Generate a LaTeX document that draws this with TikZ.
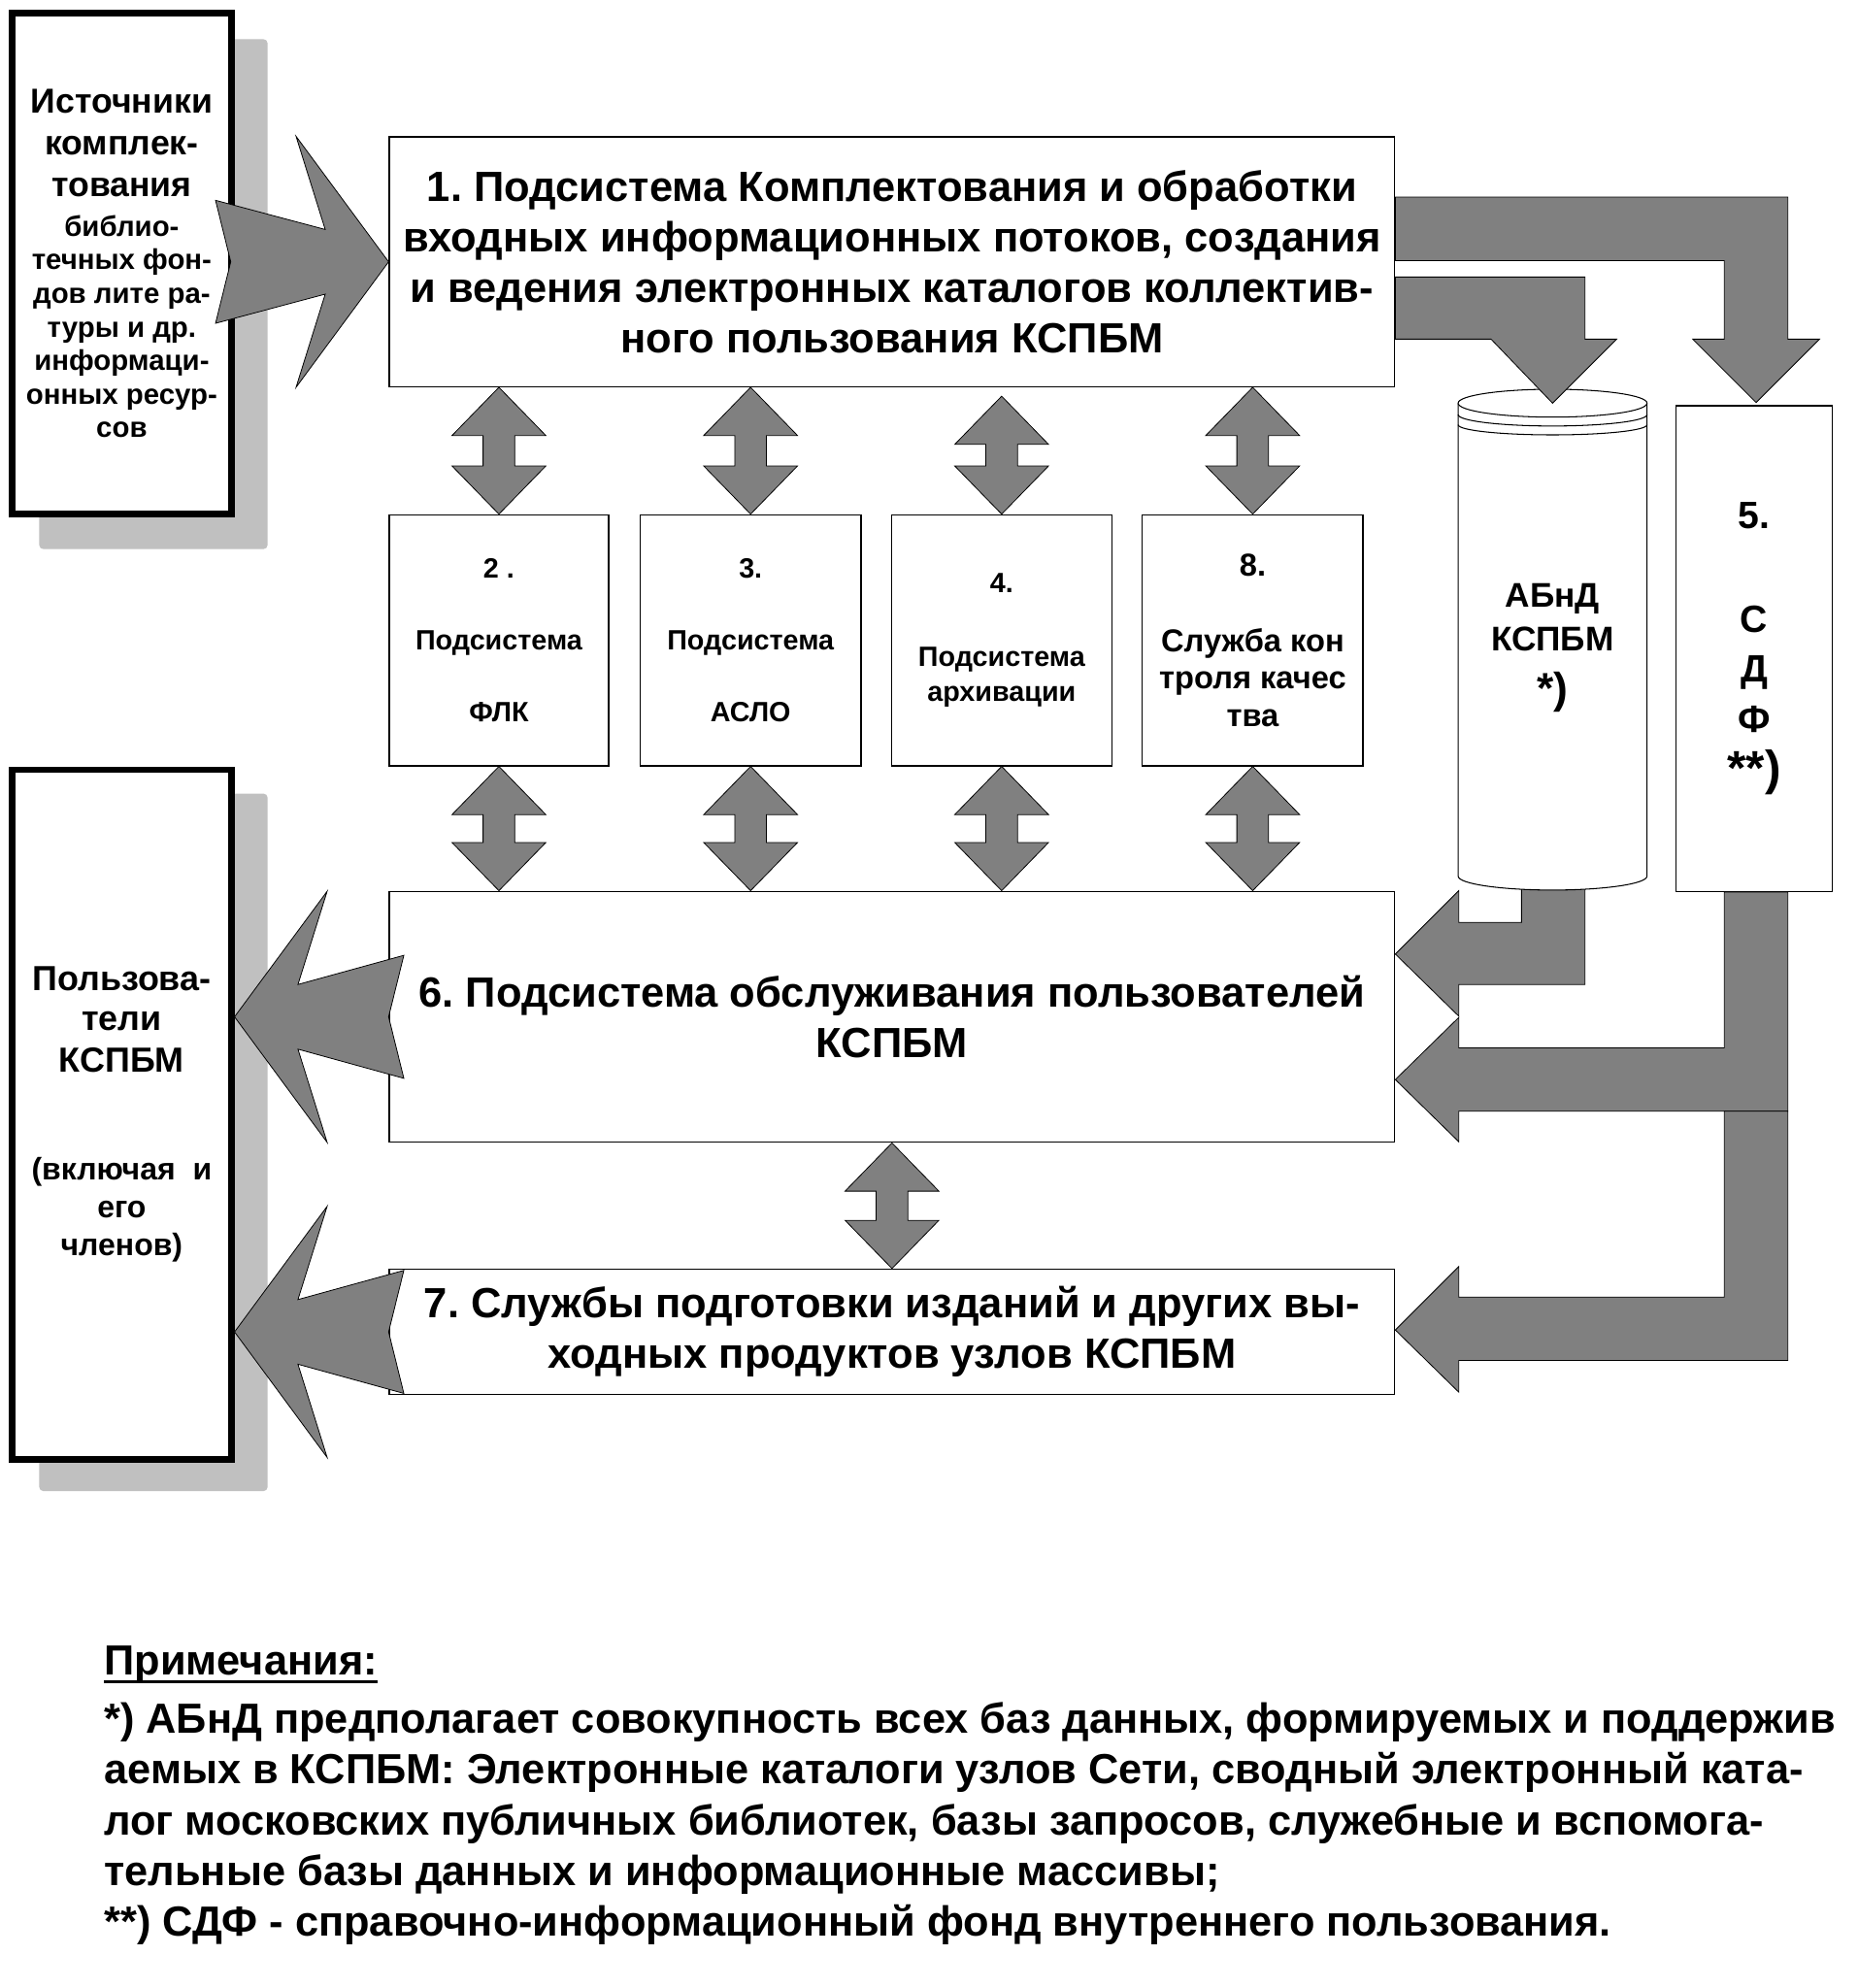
\documentclass[tikz,border=0pt]{standalone}
\usepackage{fontspec}
\setmainfont{Liberation Sans}
\usetikzlibrary{calc}
\frenchspacing
\definecolor{arrgray}{RGB}{128,128,128}
\definecolor{shadowgray}{RGB}{192,192,192}
\newcommand\thickul[1]{\setbox0=\hbox{#1}\rlap{\rule[-6.5pt]{\wd0}{2.6pt}}\box0}
\tikzset{
  box/.style={draw=black,line width=1pt,fill=white,inner sep=0pt,align=center},
  heavybox/.style={draw=black,line width=5pt,fill=white,inner sep=0pt,align=center},
  shadowbox/.style={fill=shadowgray,rounded corners=3pt},
  blockarrow/.style={fill=arrgray,draw=black,line width=0.6pt,line join=miter},
  cylline/.style={draw=black,line width=0.8pt},
  bigtext/.style={font=\bfseries\fontsize{33.3}{40}\selectfont},
  notetext/.style={font=\bfseries\fontsize{33.2}{40}\selectfont},
  smalltext/.style={font=\bfseries\fontsize{22}{57}\selectfont},
}
\newcommand\vdbl[2]{%
  \path[blockarrow] let \p1=#1, \p2=#2 in
   (\x1,\y1) -- (\x1+37pt,\y1-38pt) -- (\x1+12.5pt,\y1-38pt) -- (\x2+12.5pt,\y2+38pt)
   -- (\x2+37pt,\y2+38pt) -- (\x2,\y2) -- (\x2-37pt,\y2+38pt) -- (\x2-12.5pt,\y2+38pt)
   -- (\x1-12.5pt,\y1-38pt) -- (\x1-37pt,\y1-38pt) -- cycle;}
\newcommand\barbarrow[2]{%
  \path[blockarrow] let \p1=#1, \p2=#2, \n1={(\x2-\x1)/abs(\x2-\x1)} in
   (\x1,\y2+48.5pt) -- (\x2-\n1*50pt,\y2+25.5pt) -- (\x2-\n1*73pt,\y2+99pt) -- (\x2,\y2)
   -- (\x2-\n1*73pt,\y2-99pt) -- (\x2-\n1*50pt,\y2-25.5pt) -- (\x1,\y2-48.5pt)
   -- (\x1+\n1*12pt,\y2) -- cycle;}
\begin{document}
\begin{tikzpicture}[x=1pt,y=-1pt]
\useasboundingbox (0,0) rectangle (1465,1568);
\fill[white] (0,0) rectangle (1465,1568);

% shadows
\fill[shadowbox] (31,31) rectangle (211,433);
\fill[shadowbox] (31,626) rectangle (211,1176);

% left boxes
\node[heavybox,minimum width=173,minimum height=395,font=\bfseries\fontsize{22.5}{26.5}\selectfont] (src) at (96,208)
 {{\fontsize{27.3}{26.5}\selectfont Источники}\\[6.5pt]{\fontsize{27.3}{26.5}\selectfont комплек-}\\[6.5pt]{\fontsize{27.3}{26.5}\selectfont тования}\\[4.5pt]библио-\\течных фон-\\дов лите ра-\\туры и др.\\информаци-\\онных ресур-\\сов};
\node[heavybox,minimum width=173,minimum height=544,font=\bfseries\fontsize{24.5}{30}\selectfont] (usr) at (96,879)
 {{\fontsize{27.5}{30}\selectfont Пользова-}\\[1pt]{\fontsize{27.5}{30}\selectfont тели}\\[3pt]{\fontsize{27.5}{30}\selectfont КСПБМ}\\[55pt](включая~~и\\его\\членов)};

% main boxes
\node[box,minimum width=793,minimum height=197,bigtext] (b1) at (703.5,206.5)
 {1. Подсистема Комплектования и обработки\\входных информационных потоков, создания\\и ведения электронных каталогов коллектив-\\ного пользования КСПБМ};
\node[box,minimum width=173,minimum height=198,smalltext] (b2) at (393.5,505) {2 .\\Подсистема\\ФЛК};
\node[box,minimum width=174,minimum height=198,smalltext] (b3) at (592,505) {3.\\Подсистема\\АСЛО};
\node[box,minimum width=174,minimum height=198,font=\bfseries\fontsize{22}{28}\selectfont] (b4) at (790,505) {4.\\[30pt]Подсистема\\архивации};
\node[box,minimum width=174,minimum height=198,font=\bfseries\fontsize{25}{29.5}\selectfont] (b8) at (988,505) {8.\\[30pt]Служба кон\\троля качес\\тва};
\node[box,minimum width=793,minimum height=198,bigtext] (b6) at (703.5,802)
 {6. Подсистема обслуживания пользователей\\КСПБМ};
\node[box,minimum width=793,minimum height=99,bigtext] (b7) at (703.5,1050.5)
 {7. Службы подготовки изданий и других вы-\\ходных продуктов узлов КСПБМ};
\node[box,minimum width=123,minimum height=383,font=\bfseries\fontsize{30}{39.5}\selectfont] (s5) at (1383.5,511.5)
 {5.\\[42.5pt]С\\Д\\Ф\\[2pt]{\fontsize{38}{38}\selectfont **)}};

% database cylinder
\coordinate (dbtop) at (1224.5,307);
\coordinate (dbbot) at (1224.5,702);
\path[blockarrow] let \p1=(dbbot), \p2=(b6.north east) in
 (\x1-24.5pt,\y1+8pt) -- (\x1+25.5pt,\y1+8pt) -- (\x1+25.5pt,\y2-74pt) -- (\x2+50pt,\y2-74pt)
 -- (\x2+50pt,\y2-99pt) -- (\x2,\y2-50pt) -- (\x2+50pt,\y2) -- (\x2+50pt,\y2-25pt)
 -- (\x1-24.5pt,\y2-25pt) -- cycle;
\fill[white] (1150,318) -- (1150,691) arc[start angle=180,end angle=360,x radius=74.5pt,y radius=11pt] -- (1299,318) -- cycle;
\draw[cylline] (1150,318) -- (1150,691) arc[start angle=180,end angle=360,x radius=74.5pt,y radius=11pt] -- (1299,318);
\draw[cylline,fill=white] (1224.5,318) ellipse[x radius=74.5pt,y radius=11pt];
\draw[cylline] (1150,327) arc[start angle=180,end angle=360,x radius=74.5pt,y radius=9pt];
\draw[cylline] (1150,335) arc[start angle=180,end angle=360,x radius=74.5pt,y radius=8pt];
\node[inner sep=0pt,align=center,font=\bfseries\fontsize{27}{34.3}\selectfont] (db) at (1224.5,511)
 {АБнД\\КСПБМ\\[6.5pt]{\fontsize{34}{34}\selectfont *)}};

% arrows from box 1 to database and to СДФ
\path[blockarrow] let \p1=(b1.north east), \p2=(s5.north) in
 (\x1,\y1-48pt) -- (\x2+26.5pt,\y1-48pt) -- (\x2+26.5pt,\y2+52pt) -- (\x2+51.5pt,\y2+52pt)
 -- (\x2+1.5pt,\y2+2pt) -- (\x2-48.5pt,\y2+52pt) -- (\x2-23.5pt,\y2+52pt) -- (\x2-23.5pt,\y1-98pt)
 -- (\x1,\y1-98pt) -- cycle;
\path[blockarrow] let \p1=(b1.north east), \p2=(dbtop) in
 (\x1,\y1-111pt) -- (\x2+25.5pt,\y1-111pt) -- (\x2+25.5pt,\y1-160pt) -- (\x2+50.5pt,\y1-160pt)
 -- (\x2,\y2-11pt) -- (\x2-48.5pt,\y1-160pt) -- (\x1,\y1-160pt) -- cycle;

% arrows from СДФ to boxes 6 and 7
\path[blockarrow] let \p1=(s5.south), \p2=(b6.south east) in
 (\x1-23.5pt,\y1) -- (\x1+26.5pt,\y1) -- (\x1+26.5pt,\y2+25pt) -- (\x2+50pt,\y2+25pt)
 -- (\x2+50pt,\y2+1pt) -- (\x2,\y2+50pt) -- (\x2+50pt,\y2+99pt) -- (\x2+50pt,\y2+75pt)
 -- (\x1-23.5pt,\y2+75pt) -- cycle;
\path[blockarrow] let \p1=(s5.south), \p2=(b7.east), \p3=(b6.south) in
 (\x1-23.5pt,\y3+25pt) -- (\x1+26.5pt,\y3+25pt) -- (\x1+26.5pt,\y2-22.5pt) -- (\x2+50pt,\y2-22.5pt)
 -- (\x2+50pt,\y2-47.5pt) -- (\x2,\y2+1.5pt) -- (\x2+50pt,\y2+51.5pt) -- (\x2+50pt,\y2+27.5pt)
 -- (\x1-23.5pt,\y2+27.5pt) -- cycle;

% big barbed arrows
\barbarrow{($(b1.west -| src.east)+(-15,0)$)}{(b1.west)}
\barbarrow{($(b6.west)+(12,0)$)}{(b6.west -| usr.east)}
\barbarrow{($(b7.west)+(12,0)$)}{(b7.west -| usr.east)}

% double arrows
\vdbl{(b2.north |- b1.south)}{(b2.north)}
\vdbl{(b3.north |- b1.south)}{(b3.north)}
\vdbl{($(b4.north |- b1.south)+(0,7)$)}{(b4.north)}
\vdbl{(b8.north |- b1.south)}{(b8.north)}
\vdbl{(b2.south)}{(b2.south |- b6.north)}
\vdbl{(b3.south)}{(b3.south |- b6.north)}
\vdbl{(b4.south)}{(b4.south |- b6.north)}
\vdbl{(b8.south)}{(b8.south |- b6.north)}
\vdbl{(b6.south)}{(b7.north)}

% notes
\node[anchor=north west,inner sep=0pt,align=left,notetext] (notes) at (82,1298)
 {\thickul{Примечания:}\\[6pt]*) АБнД предполагает совокупность всех баз данных, формируемых и поддержив\\аемых в КСПБМ: Электронные каталоги узлов Сети, сводный электронный ката-\\лог московских публичных библиотек, базы запросов, служебные и вспомога-\\тельные базы данных и информационные массивы;\\**) СДФ - справочно-информационный фонд внутреннего пользования.};
\end{tikzpicture}
\end{document}
